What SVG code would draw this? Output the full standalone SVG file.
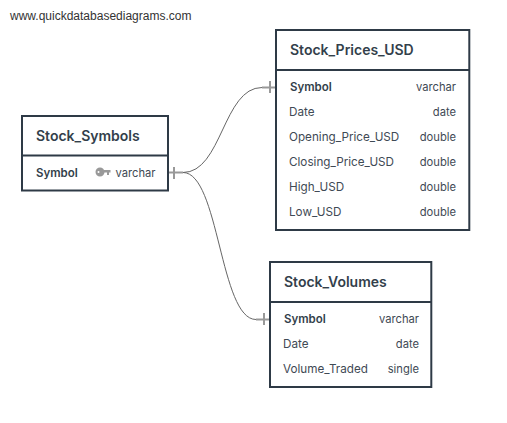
<svg xmlns="http://www.w3.org/2000/svg" width="507" height="423" viewBox="0 0 507 423">
<style>
text{font-family:Inter,"Liberation Sans",sans-serif;fill:#3f4a55;font-size:11.700px}
.t{font-size:14px;font-weight:600;fill:#333f4b}
.b{font-weight:600;font-size:11.500px;fill:#333f4b}
.r{text-anchor:end;font-size:11.200px}
.u{font-family:"Liberation Sans",Arial,sans-serif;font-size:12px;fill:#333}
.box{fill:#fff;stroke:#2e3a46;stroke-width:2}
.sep{stroke:#2e3a46;stroke-width:2;fill:none}
.c{fill:none;stroke:#666;stroke-width:1}
.m{fill:none;stroke:#999;stroke-width:2}
</style>
<rect width="507" height="423" fill="#fff"/>
<text class="u" x="10" y="20">www.quickdatabasediagrams.com</text>
<g id="connectors">
<path class="m" d="M169 172.500H183M174 167V179M262 87.500H276M270 81V93M256 319.500H270M264 313V325"/>
<path class="c" d="M183 172.500C222 172.500 223 87.500 262 87.500"/>
<path class="c" d="M183 172.500C219 172.500 220 319.500 256 319.500"/>
</g>
<g id="Stock_Symbols">
<rect class="box" x="22" y="116" width="146" height="74.500"/>
<path class="sep" d="M22 155.500H168"/>
<text class="t" x="36" y="141">Stock_Symbols</text>
<text class="b" x="36" y="177">Symbol</text>
<g fill="#999"><path fill-rule="evenodd" d="M100 167.500a4.500 4.500 0 1 1 0 9a4.500 4.500 0 1 1 0-9zM98.500 171a1 1 0 1 0 0 2a1 1 0 1 0 0-2z"/><path d="M103 170H110.500V172.500H109V175H107V172.500H103Z"/></g>
<text class="r" x="155.500" y="177">varchar</text>
</g>
<g id="Stock_Prices_USD">
<rect class="box" x="276" y="30" width="193.300" height="200"/>
<path class="sep" d="M276 70H469"/>
<text class="t" x="290" y="55">Stock_Prices_USD</text>
<text class="b" x="290" y="91">Symbol</text><text class="r" x="456" y="91">varchar</text>
<text x="289" y="116">Date</text><text class="r" x="456" y="116">date</text>
<text x="289" y="141">Opening_Price_USD</text><text class="r" x="456" y="141">double</text>
<text x="289" y="166">Closing_Price_USD</text><text class="r" x="456" y="166">double</text>
<text x="289" y="191">High_USD</text><text class="r" x="456" y="191">double</text>
<text x="289" y="216">Low_USD</text><text class="r" x="456" y="216">double</text>
</g>
<g id="Stock_Volumes">
<rect class="box" x="270" y="262" width="161.300" height="125"/>
<path class="sep" d="M270 302H431"/>
<text class="t" x="284" y="287">Stock_Volumes</text>
<text class="b" x="284" y="323">Symbol</text><text class="r" x="419" y="323">varchar</text>
<text x="283" y="348">Date</text><text class="r" x="419" y="348">date</text>
<text x="283" y="373">Volume_Traded</text><text class="r" x="419" y="373">single</text>
</g>
</svg>
